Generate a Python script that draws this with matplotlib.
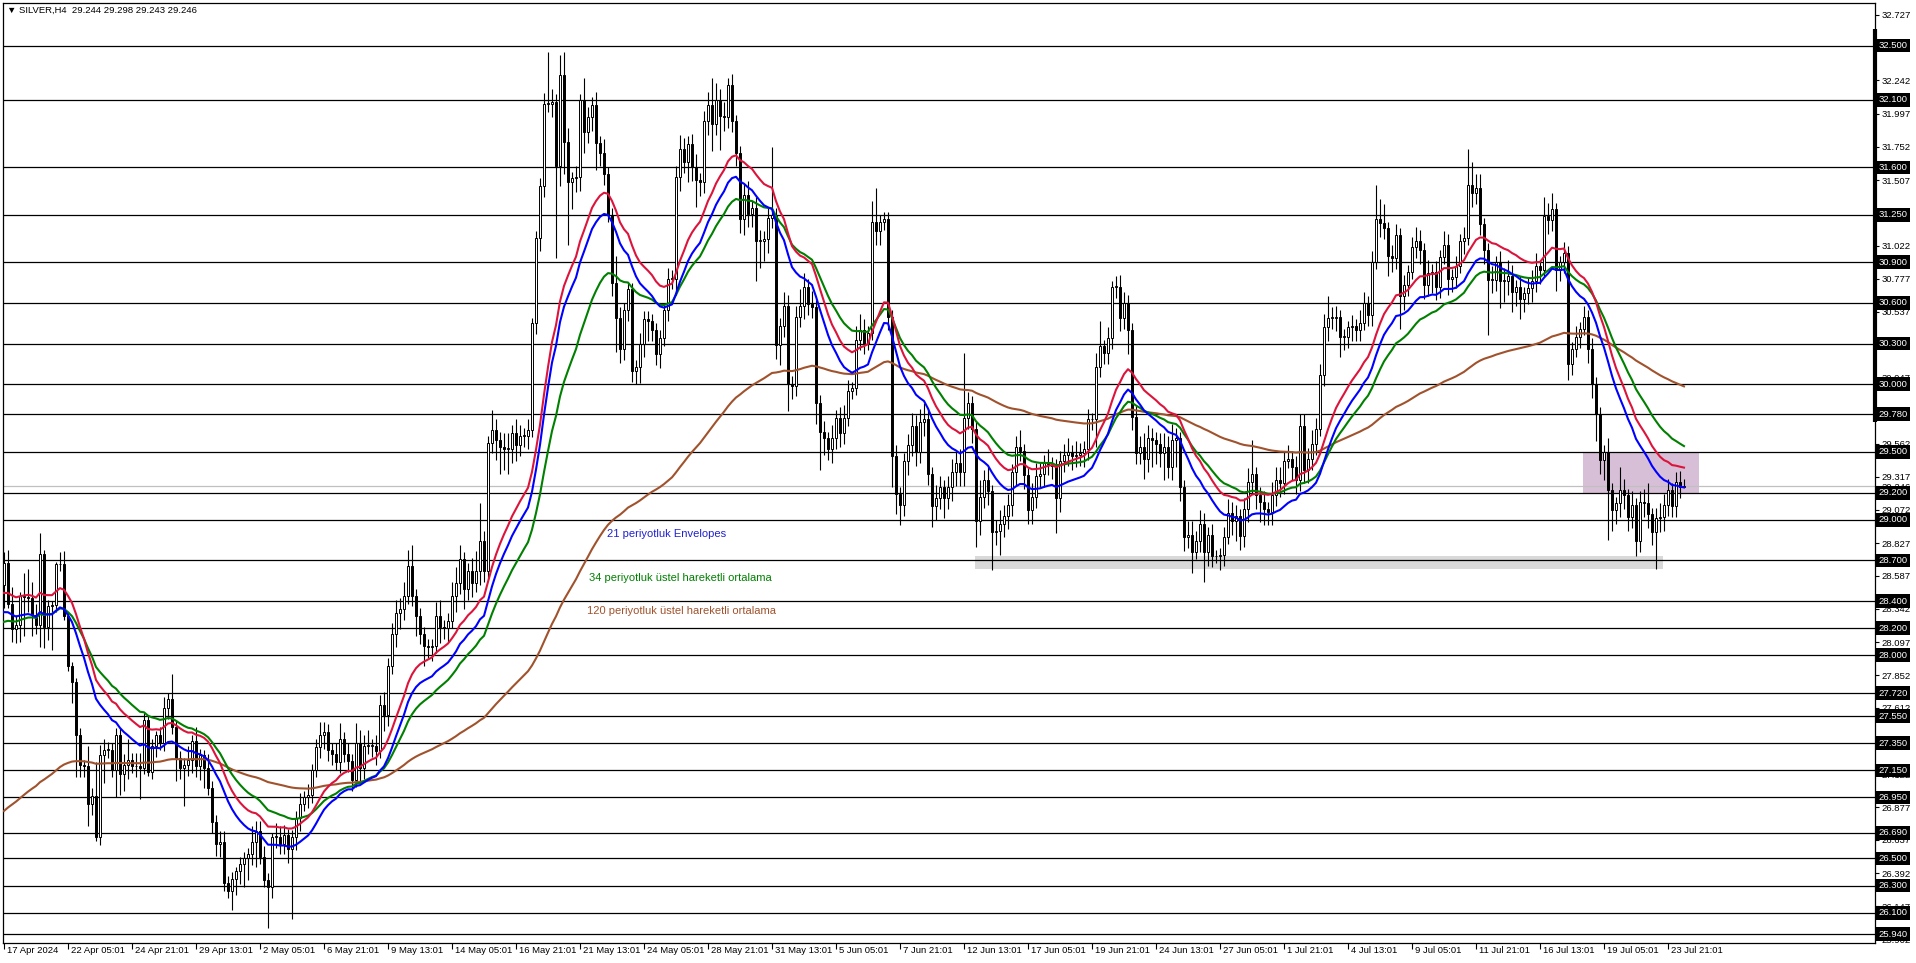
import numpy as np
import matplotlib.pyplot as plt
import matplotlib.transforms as mtransforms
from matplotlib.patches import Rectangle

plt.rcParams['font.family'] = ['Liberation Sans', 'DejaVu Sans']

#%% Data : SILVER H4, one close per bar (17 Apr 2024 -> 24 Jul 2024)

first_open = 28.52
closes = [
    28.68, 28.38, 28.19, 28.22, 28.44, 28.43, 28.42, 28.30, 28.22, 28.75,
    28.21, 28.36, 28.37, 28.67, 28.67, 28.29, 27.92, 27.80, 27.41, 27.19,
    27.18, 26.90, 26.96, 26.66, 27.26, 27.30, 27.30, 27.15, 27.41, 27.12,
    27.19, 27.23, 27.18, 27.18, 27.17, 27.52, 27.14, 27.33, 27.41, 27.35,
    27.61, 27.68, 27.47, 27.24, 27.17, 27.19, 27.23, 27.37, 27.18, 27.26,
    27.17, 27.02, 26.77, 26.61, 26.62, 26.32, 26.26, 26.35, 26.41, 26.46,
    26.50, 26.53, 26.62, 26.70, 26.51, 26.34, 26.29, 26.66, 26.66, 26.61,
    26.67, 26.57, 26.66, 26.80, 26.90, 26.95, 26.97, 27.15, 27.32, 27.41,
    27.43, 27.30, 27.27, 27.21, 27.38, 27.27, 27.22, 27.08, 27.35, 27.17,
    27.33, 27.33, 27.33, 27.29, 27.63, 27.56, 27.92, 28.16, 28.31, 28.34,
    28.44, 28.66, 28.44, 28.29, 28.16, 28.07, 28.06, 28.07, 28.29, 28.21,
    28.20, 28.25, 28.44, 28.53, 28.71, 28.49, 28.62, 28.53, 28.62, 28.84,
    28.62, 29.57, 29.66, 29.59, 29.54, 29.52, 29.52, 29.64, 29.55, 29.62,
    29.62, 29.66, 30.45, 31.08, 31.46, 32.07, 32.07, 32.08, 31.61, 32.28,
    31.79, 31.49, 31.52, 31.53, 32.10, 31.86, 31.97, 32.06, 31.78, 31.71,
    31.55, 31.25, 30.75, 30.49, 30.26, 30.55, 30.70, 30.10, 30.13, 30.30,
    30.48, 30.47, 30.40, 30.22, 30.34, 30.55, 30.78, 30.78, 31.53, 31.74,
    31.64, 31.77, 31.60, 31.51, 31.49, 31.94, 32.06, 31.92, 32.10, 31.98,
    31.97, 32.21, 31.94, 31.71, 31.22, 31.40, 31.26, 31.30, 31.06, 31.06,
    31.07, 31.23, 31.25, 30.29, 30.43, 30.58, 30.00, 29.99, 30.50, 30.58,
    30.72, 30.59, 30.57, 29.86, 29.65, 29.60, 29.52, 29.60, 29.75, 29.64,
    29.75, 29.95, 29.97, 30.33, 30.40, 30.30, 30.38, 31.20, 31.13, 31.20,
    31.22, 30.50, 29.47, 29.19, 29.11, 29.43, 29.55, 29.69, 29.50, 29.72,
    29.74, 29.34, 29.10, 29.16, 29.24, 29.16, 29.24, 29.35, 29.42, 29.35,
    29.75, 29.86, 29.67, 28.99, 29.17, 29.29, 29.21, 28.91, 28.92, 28.97,
    29.03, 29.11, 29.35, 29.54, 29.51, 29.33, 29.07, 29.17, 29.32, 29.34,
    29.42, 29.41, 29.40, 29.16, 29.43, 29.48, 29.50, 29.47, 29.48, 29.49,
    29.52, 29.74, 29.74, 30.13, 30.28, 30.23, 30.34, 30.72, 30.72, 30.49,
    30.60, 30.40, 29.76, 29.49, 29.54, 29.45, 29.60, 29.59, 29.56, 29.49,
    29.54, 29.39, 29.59, 29.60, 29.24, 28.87, 28.89, 28.76, 28.84, 28.97,
    28.76, 28.89, 28.73, 28.73, 28.74, 28.87, 29.05, 28.99, 29.03, 28.88,
    29.08, 29.28, 29.34, 29.18, 29.13, 29.08, 29.06, 29.18, 29.29, 29.27,
    29.43, 29.45, 29.39, 29.29, 29.69, 29.37, 29.45, 29.56, 29.67, 30.07,
    30.42, 30.49, 30.49, 30.50, 30.35, 30.35, 30.42, 30.43, 30.40, 30.45,
    30.60, 30.51, 30.90, 31.22, 31.19, 31.15, 30.95, 30.93, 31.10, 30.65,
    30.73, 30.83, 31.01, 31.06, 30.99, 30.73, 30.82, 30.83, 30.72, 30.94,
    31.03, 30.78, 30.79, 30.87, 31.06, 31.08, 31.47, 31.41, 31.45, 31.18,
    30.99, 30.77, 30.77, 30.90, 30.76, 30.76, 30.80, 30.68, 30.72, 30.63,
    30.67, 30.71, 30.76, 30.87, 30.84, 31.24, 31.21, 31.29, 30.84, 30.90,
    30.97, 30.15, 30.26, 30.35, 30.41, 30.50, 30.26, 30.00, 29.78, 29.44,
    29.50, 29.22, 29.07, 29.12, 29.22, 29.18, 29.02, 29.11, 28.84, 29.13,
    29.12, 29.04, 28.91, 29.01, 29.02, 29.11, 29.22, 29.10, 29.28, 29.244,
    29.246,
]

# wicks, in cents above / below the candle body
up_wick = [
    8, 10, 12, 8, 3, 17, 21, 12, 8, 15,
    3, 5, 3, 2, 9, 10, 3, 3, 3, 5,
    4, 15, 6, 25, 8, 8, 6, 5, 5, 5,
    8, 15, 5, 10, 10, 5, 4, 5, 3, 6,
    8, 4, 18, 5, 5, 5, 10, 4, 10, 5,
    4, 10, 5, 5, 8, 8, 5, 5, 3, 5,
    5, 5, 12, 8, 8, 8, 5, 3, 10, 8,
    8, 5, 5, 5, 8, 5, 8, 5, 6, 10,
    8, 6, 5, 8, 12, 5, 8, 5, 15, 10,
    8, 12, 5, 8, 8, 10, 6, 8, 10, 8,
    10, 12, 15, 5, 6, 5, 5, 5, 10, 12,
    5, 6, 10, 12, 10, 5, 6, 10, 15, 28,
    8, 5, 15, 8, 6, 10, 12, 6, 10, 8,
    6, 8, 4, 5, 6, 8, 38, 10, 6, 15,
    17, 10, 5, 8, 4, 16, 8, 6, 10, 5,
    10, 5, 5, 20, 8, 5, 5, 5, 5, 8,
    6, 6, 5, 5, 6, 5, 8, 6, 8, 10,
    8, 6, 8, 10, 5, 8, 10, 20, 12, 8,
    10, 5, 8, 5, 5, 8, 10, 5, 8, 8,
    6, 8, 50, 5, 6, 10, 8, 6, 8, 12,
    10, 6, 10, 5, 6, 8, 5, 10, 6, 8,
    10, 8, 5, 10, 12, 8, 5, 15, 25, 5,
    5, 5, 5, 8, 5, 6, 8, 10, 8, 10,
    12, 8, 5, 10, 8, 5, 8, 10, 8, 10,
    48, 8, 5, 5, 12, 8, 10, 5, 8, 10,
    8, 8, 6, 8, 12, 5, 5, 10, 10, 8,
    6, 10, 5, 5, 8, 8, 10, 5, 10, 8,
    6, 8, 5, 10, 19, 5, 8, 4, 8, 9,
    8, 6, 5, 8, 8, 10, 10, 8, 6, 8,
    10, 8, 12, 8, 5, 5, 10, 10, 8, 10,
    8, 6, 8, 5, 5, 8, 10, 8, 8, 5,
    8, 10, 25, 5, 6, 8, 5, 10, 10, 10,
    8, 10, 6, 8, 9, 9, 8, 10, 8, 8,
    10, 16, 8, 8, 5, 6, 5, 8, 5, 10,
    8, 5, 8, 25, 15, 14, 5, 8, 8, 5,
    8, 5, 8, 10, 8, 5, 10, 6, 8, 5,
    10, 8, 6, 8, 5, 8, 27, 17, 10, 10,
    5, 5, 10, 5, 8, 10, 12, 8, 5, 8,
    5, 8, 8, 10, 5, 14, 10, 12, 5, 5,
    8, 5, 5, 8, 5, 8, 5, 8, 5, 5,
    5, 10, 5, 5, 17, 8, 5, 10, 5, 8,
    10, 15, 5, 8, 10, 8, 8, 5, 7, 8,
    5.2,
]
down_wick = [
    17, 3, 9, 10, 12, 29, 10, 16, 6, 16,
    16, 10, 32, 5, 5, 3, 4, 15, 31, 9,
    8, 16, 8, 3, 6, 20, 6, 5, 20, 15,
    12, 10, 5, 8, 23, 5, 3, 5, 8, 5,
    6, 8, 5, 17, 8, 28, 8, 10, 8, 10,
    15, 5, 8, 9, 10, 6, 5, 14, 12, 10,
    17, 16, 8, 18, 5, 5, 30, 8, 8, 8,
    8, 10, 52, 10, 10, 5, 8, 6, 5, 8,
    10, 8, 8, 6, 8, 6, 8, 8, 5, 10,
    8, 6, 8, 10, 5, 12, 8, 6, 10, 12,
    8, 6, 8, 15, 8, 15, 8, 10, 5, 12,
    8, 10, 5, 12, 8, 15, 8, 10, 6, 10,
    8, 5, 8, 15, 20, 15, 18, 10, 12, 8,
    8, 10, 5, 8, 10, 8, 6, 10, 68, 15,
    24, 46, 20, 10, 10, 15, 8, 10, 20, 10,
    8, 5, 10, 25, 10, 8, 8, 8, 10, 12,
    10, 15, 8, 8, 10, 6, 8, 8, 12, 10,
    8, 15, 10, 20, 10, 8, 10, 20, 8, 25,
    10, 8, 8, 10, 10, 12, 10, 10, 30, 20,
    15, 10, 8, 10, 15, 8, 20, 10, 8, 8,
    10, 8, 8, 15, 28, 12, 8, 10, 8, 10,
    8, 6, 6, 5, 8, 8, 5, 5, 10, 10,
    6, 10, 23, 15, 15, 8, 10, 8, 10, 8,
    10, 8, 15, 10, 8, 15, 8, 10, 10, 10,
    10, 8, 10, 19, 10, 8, 10, 28, 10, 18,
    10, 10, 8, 10, 8, 10, 10, 10, 8, 8,
    10, 8, 10, 26, 10, 8, 8, 10, 8, 8,
    10, 8, 8, 20, 8, 8, 8, 8, 8, 10,
    8, 18, 10, 8, 8, 15, 10, 20, 15, 10,
    20, 8, 10, 20, 10, 10, 8, 15, 5, 8,
    22, 10, 8, 5, 10, 8, 5, 10, 15, 10,
    8, 10, 8, 10, 15, 12, 10, 10, 8, 10,
    8, 5, 10, 10, 8, 10, 10, 8, 8, 5,
    8, 10, 8, 10, 15, 10, 8, 10, 8, 8,
    5, 8, 8, 5, 10, 8, 15, 10, 8, 24,
    10, 8, 5, 8, 10, 10, 8, 15, 10, 8,
    5, 12, 10, 8, 5, 10, 5, 10, 8, 8,
    10, 41, 10, 8, 20, 15, 10, 15, 10, 15,
    10, 8, 10, 8, 10, 5, 10, 8, 15, 8,
    8, 12, 8, 6, 8, 5, 10, 10, 20, 10,
    15, 37, 15, 10, 10, 10, 10, 8, 11, 8,
    10, 10, 10, 27, 10, 10, 8, 8, 8, 8,
    0.1,
]

# indicator values at the first visible bar
env_start = 28.36
ema34_start = 28.22
ema120_start = 26.82
env_dev = 0.0025

levels = [32.5, 32.1, 31.6, 31.25, 30.9, 30.6, 30.3, 30.0, 29.78, 29.5, 29.2, 29.0, 28.7,
          28.4, 28.2, 28.0, 27.72, 27.55, 27.35, 27.15, 26.95, 26.69, 26.5, 26.3, 26.1, 25.94]
price_ticks = [32.727, 32.242, 31.997, 31.752, 31.507, 31.022, 30.777, 30.537,
               30.047, 29.562, 29.317, 29.246, 29.072, 28.827, 28.587, 28.342,
               28.097, 27.852, 27.612, 27.122, 26.877, 26.637, 26.392, 26.147, 25.902]
bid = 29.246

date_labels = ['17 Apr 2024', '22 Apr 05:01', '24 Apr 21:01', '29 Apr 13:01', '2 May 05:01',
               '6 May 21:01', '9 May 13:01', '14 May 05:01', '16 May 21:01', '21 May 13:01',
               '24 May 05:01', '28 May 21:01', '31 May 13:01', '5 Jun 05:01', '7 Jun 21:01',
               '12 Jun 13:01', '17 Jun 05:01', '19 Jun 21:01', '24 Jun 13:01', '27 Jun 05:01',
               '1 Jul 21:01', '4 Jul 13:01', '9 Jul 05:01', '11 Jul 21:01', '16 Jul 13:01',
               '19 Jul 05:01', '23 Jul 21:01']
bars_per_label = 16

# zones : first bar, last bar, low price, high price
support_zone = (242.75, 414.75, 28.64, 28.73)
resist_zone = (394.7, 423.75, 29.195, 29.50)

#%% Candles and moving averages

closes = np.array(closes)
opens = np.concatenate([[first_open], closes[:-1]])
highs = np.maximum(opens, closes) + np.array(up_wick) / 100
lows = np.minimum(opens, closes) - np.array(down_wick) / 100
x = np.arange(len(closes))

def ema(values, period, start):
    out = []
    e = start
    for v in values:
        e = e + 2 / (period + 1) * (v - e)
        out.append(e)
    return np.array(out)

env_mid = ema(closes, 21, env_start)
env_up = env_mid * (1 + env_dev)
env_low = env_mid * (1 - env_dev)
ema34 = ema(closes, 34, ema34_start)
ema120 = ema(closes, 120, ema120_start)

#%% Figure

fig = plt.figure(figsize=(19.16, 9.63), dpi=100)
ax = fig.add_axes([3 / 1916, 20 / 963, 1872 / 1916, 940 / 963])
ax.set_xlim(-0.25, 467.75)
ax.set_ylim(25.876, 32.814)

ax.add_patch(Rectangle((resist_zone[0], resist_zone[2]), resist_zone[1] - resist_zone[0],
                       resist_zone[3] - resist_zone[2], fc='#d8bfd8', ec='none', zorder=0.5))
ax.add_patch(Rectangle((support_zone[0], support_zone[2]), support_zone[1] - support_zone[0],
                       support_zone[3] - support_zone[2], fc='#d9d9d9', ec='none', zorder=0.6))

for lv in levels:
    ax.axhline(lv, color='black', lw=0.9, zorder=1)
ax.axhline(bid, color='#c0c0c0', lw=0.9, zorder=0.8)

# candles
bull = closes >= opens
ax.vlines(x, lows, highs, color='black', lw=0.8, zorder=2)
body_low = np.minimum(opens, closes)
body_h = np.maximum(np.abs(closes - opens), 0.006)
ax.bar(x, body_h, bottom=body_low, width=0.6, color=np.where(bull, 'white', 'black'),
       edgecolor='black', linewidth=0.7, zorder=3)

ax.plot(x, ema120, color='#a0522d', lw=1.5, zorder=4)
ax.plot(x, ema34, color='#008000', lw=1.5, zorder=4)
ax.plot(x, env_up, color='#dc143c', lw=1.5, zorder=4)
ax.plot(x, env_low, color='#0000ff', lw=1.5, zorder=4)

ax.text(150.8, 28.895, '21 periyotluk Envelopes', color='#2020d0', fontsize=8, va='center')
ax.text(146.3, 28.57, '34 periyotluk üstel hareketli ortalama', color='#008000', fontsize=8, va='center')
ax.text(145.8, 28.33, '120 periyotluk üstel hareketli ortalama', color='#a0522d', fontsize=8, va='center')

ax.text(0.002, 0.997, '▼ SILVER,H4  29.244 29.298 29.243 29.246', transform=ax.transAxes,
        ha='left', va='top', fontsize=6.8)

# right price scale
ax.yaxis.tick_right()
ax.set_yticks(price_ticks)
ax.set_yticklabels([f'{v:.3f}' for v in price_ticks], fontsize=6.8)
ax.tick_params(axis='y', length=3, width=0.8, pad=2)

ty = mtransforms.blended_transform_factory(ax.transAxes, ax.transData)
for lv in levels:
    ax.text(1.0018, lv, f'{lv:.3f}', transform=ty, color='white', fontsize=6.8, ha='left',
            va='center', bbox=dict(boxstyle='square,pad=0.25', fc='black', ec='none'),
            zorder=10, clip_on=False)
ax.plot([1.0, 1.0], [32.62, 29.72], transform=ty, color='black', lw=3, clip_on=False,
        solid_capstyle='butt', zorder=10)

# time scale
tick_pos = np.arange(len(date_labels)) * bars_per_label
ax.set_xticks(tick_pos)
ax.set_xticklabels([])
ax.tick_params(axis='x', length=4, width=0.8)
tx = mtransforms.blended_transform_factory(ax.transData, ax.transAxes)
for p, lab in zip(tick_pos, date_labels):
    ax.text(p + 0.75, -0.003, lab, transform=tx, ha='left', va='top', fontsize=6.8, clip_on=False)

for s in ax.spines.values():
    s.set_color('black')
    s.set_linewidth(0.9)

plt.savefig('out.png', dpi=100)
